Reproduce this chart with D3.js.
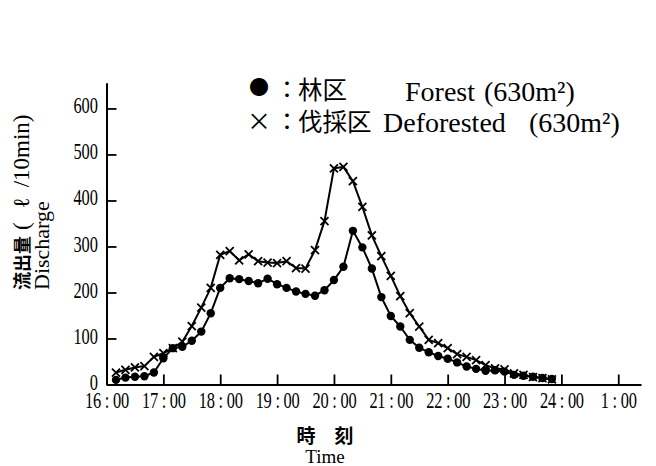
<!DOCTYPE html>
<html>
<head>
<meta charset="utf-8">
<script src="https://cdn.jsdelivr.net/npm/d3@7"></script>
<style>
  html, body { margin: 0; padding: 0; background: #fff; }
  svg { display: block; }
  .serif { font-family: "Liberation Serif", "Times New Roman", serif; }
  .cjk { font-family: "Noto Sans CJK JP", sans-serif; }
</style>
</head>
<body>
<svg id="chart" width="656" height="466"></svg>
<script>
// Observation times (10-minute intervals)
const times = [
  "16:10","16:20","16:30","16:40","16:50","17:00","17:10","17:20","17:30","17:40","17:50",
  "18:00","18:10","18:20","18:30","18:40","18:50","19:00","19:10","19:20","19:30","19:40","19:50",
  "20:00","20:10","20:20","20:30","20:40","20:50","21:00","21:10","21:20","21:30","21:40","21:50",
  "22:00","22:10","22:20","22:30","22:40","22:50","23:00","23:10","23:20","23:30","23:40","23:50"
];

// Discharge (l / 10 min), forest plot
const forest = [
  10, 15, 17, 18, 26, 57, 79, 82, 95, 115, 155,
  210, 231, 229, 225, 220, 230, 218, 210, 202, 197, 193, 205,
  227, 256, 334, 298, 252, 190, 149, 126, 97, 80, 70, 62,
  56, 48, 39, 34, 30, 31, 28, 21, 19, 17, 14, 12
];

// Discharge (l / 10 min), deforested plot
const deforested = [
  26, 32, 37, 40, 60, 68, 79, 93, 127, 167, 210,
  282, 290, 270, 283, 268, 265, 264, 268, 253, 252, 292, 355,
  470, 473, 442, 386, 324, 279, 236, 192, 155, 126, 97, 90,
  79, 66, 60, 53, 42, 35, 33, 24, 21, 16, 14, 11
];

const yTicks = [0, 100, 200, 300, 400, 500, 600];
const xTicks = [16, 17, 18, 19, 20, 21, 22, 23, 24, 25];
const xTickLabels = ["16 : 00","17 : 00","18 : 00","19 : 00","20 : 00","21 : 00","22 : 00","23 : 00","24 : 00","1 : 00"];

const toHours = s => { const [h, m] = s.split(":").map(Number); return h + m / 60; };

const svg = d3.select("#chart");

const x = d3.scaleLinear().domain([16, 25.4]).range([106.5, 641]);
const y = d3.scaleLinear().domain([0, 656]).range([384.5, 82.7]);

// tick labels use a narrow, tall serif face
const SX = 0.8, SY = 1.1;

// y axis: ticks point inward, labels on the left
const yAxis = svg.append("g")
  .attr("transform", `translate(${x(16)},0)`)
  .call(d3.axisLeft(y).tickValues(yTicks).tickSizeInner(-10).tickSizeOuter(0).tickPadding(8.5));

// x axis: ticks point upward, labels below
const xAxis = svg.append("g")
  .attr("transform", `translate(0,${y(0)})`)
  .call(d3.axisBottom(x).tickValues(xTicks).tickSizeInner(-10).tickSizeOuter(0).tickPadding(7)
    .tickFormat((d, i) => xTickLabels[i]));

[yAxis, xAxis].forEach(g => {
  g.select(".domain").attr("stroke", "#000").attr("stroke-width", 2);
  g.selectAll(".tick line").attr("stroke", "#000").attr("stroke-width", 1.8);
  g.selectAll(".tick text")
    .attr("class", "serif")
    .attr("fill", "#000")
    .attr("transform", `scale(${SX},${SY})`)
    .style("font-size", "20.5px");
});
yAxis.selectAll(".tick text").attr("x", -8.5 / SX).attr("dy", "0.2em");
xAxis.selectAll(".tick text").attr("x", 0).style("letter-spacing", "-0.3px");

// series
const seriesForest = times.map((t, i) => ({ t: toHours(t), v: forest[i] }));
const seriesDefor = times.map((t, i) => ({ t: toHours(t), v: deforested[i] }));

const line = d3.line().x(d => x(d.t)).y(d => y(d.v));

svg.append("path").datum(seriesDefor)
  .attr("d", line).attr("fill", "none").attr("stroke", "#000").attr("stroke-width", 2);

svg.append("g").selectAll("path").data(seriesDefor).join("path")
  .attr("transform", d => `translate(${x(d.t)},${y(d.v)})`)
  .attr("d", "M-4,-4L4,4M-4,4L4,-4")
  .attr("stroke", "#000").attr("stroke-width", 1.8).attr("fill", "none");

svg.append("path").datum(seriesForest)
  .attr("d", line).attr("fill", "none").attr("stroke", "#000").attr("stroke-width", 2);

svg.append("g").selectAll("circle").data(seriesForest).join("circle")
  .attr("cx", d => x(d.t)).attr("cy", d => y(d.v)).attr("r", 4.2).attr("fill", "#000");

// legend
const legend = svg.append("g");
legend.append("text").attr("class", "cjk").attr("x", 249).attr("y", 95).style("font-size", "20px").text("●");
legend.append("text").attr("class", "cjk").attr("x", 275).attr("y", 98).style("font-size", "24px").text("：");
legend.append("text").attr("class", "cjk").attr("x", 298).attr("y", 99).style("font-size", "24.5px").text("林区");
legend.append("text").attr("class", "serif").attr("x", 405).attr("y", 101).style("font-size", "28px").text("Forest");
legend.append("text").attr("class", "serif").attr("x", 484).attr("y", 101).style("font-size", "28px").text("(630m²)");

legend.append("text").attr("class", "cjk").attr("x", 247).attr("y", 130).style("font-size", "24px").text("×");
legend.append("text").attr("class", "cjk").attr("x", 275).attr("y", 130).style("font-size", "24px").text("：");
legend.append("text").attr("class", "cjk").attr("x", 298).attr("y", 131).style("font-size", "24.5px").text("伐採区");
legend.append("text").attr("class", "serif").attr("x", 383).attr("y", 132).style("font-size", "28px").text("Deforested");
legend.append("text").attr("class", "serif").attr("x", 529).attr("y", 132).style("font-size", "28px").text("(630m²)");

// axis titles
const yTitle = svg.append("g");
yTitle.append("text")
  .attr("transform", "translate(29,290) rotate(-90)")
  .call(t => {
    t.append("tspan").attr("class", "cjk").style("font-size", "18px").style("font-weight", "bold").text("流出量");
    t.append("tspan").attr("class", "serif").attr("dx", 6).style("font-size", "23px").text("(");
    t.append("tspan").attr("class", "serif").attr("dx", 14).style("font-size", "23px").text("ℓ");
    t.append("tspan").attr("class", "serif").attr("dx", 10).style("font-size", "23px").text("/10min)");
  });
yTitle.append("text").attr("class", "serif")
  .attr("transform", "translate(49,290) rotate(-90)")
  .style("font-size", "22px").text("Discharge");

svg.append("text").attr("class", "cjk")
  .attr("x", 325).attr("y", 443).attr("text-anchor", "middle")
  .style("font-size", "19px").style("font-weight", "bold").text("時　刻");
svg.append("text").attr("class", "serif")
  .attr("x", 325).attr("y", 462.5).attr("text-anchor", "middle")
  .style("font-size", "19px").text("Time");
</script>
</body>
</html>
